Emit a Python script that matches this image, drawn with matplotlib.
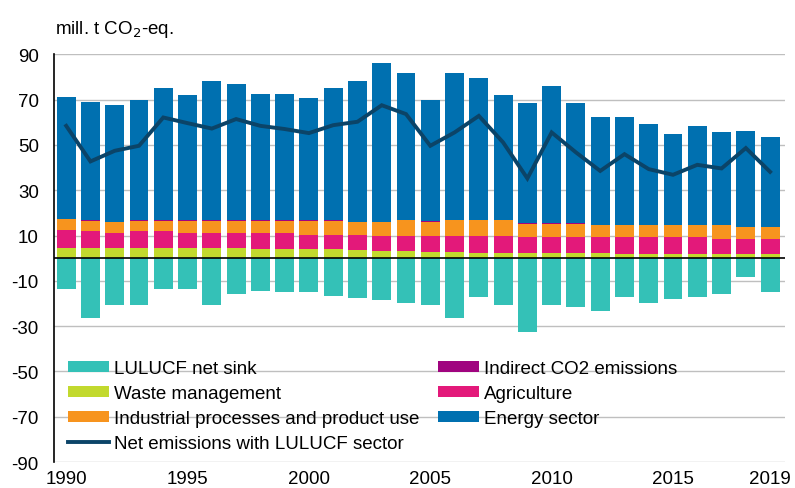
import matplotlib.pyplot as plt
import numpy as np

plt.rcParams['font.family'] = ['Liberation Sans', 'DejaVu Sans']
plt.rcParams['axes.unicode_minus'] = False

# --- Data (mill. t CO2-eq.) ---
years = list(range(1990, 2020))

# top of each stacked level (cumulative), then converted to components
waste = [4.5, 4.5, 4.5, 4.5, 4.5, 4.5, 4.5, 4.5, 4.0, 4.0,
         4.0, 4.0, 3.6, 3.2, 3.2, 2.8, 2.6, 2.5, 2.5, 2.4,
         2.3, 2.2, 2.1, 2.0, 1.9, 1.9, 1.9, 1.8, 1.8, 1.8]
agri_top = [12.5, 11.8, 11.3, 11.8, 11.8, 11.0, 11.0, 11.0, 11.0, 11.0,
            10.3, 10.3, 10.3, 9.6, 9.6, 9.6, 9.6, 9.6, 9.6, 9.2,
            9.4, 9.4, 9.2, 9.2, 9.2, 9.2, 9.2, 8.6, 8.6, 8.6]
ind_top = [17.4, 16.6, 16.0, 16.6, 16.6, 16.6, 16.6, 16.6, 16.6, 16.6,
           16.6, 16.6, 16.0, 16.0, 16.8, 16.1, 16.8, 16.8, 16.8, 15.3,
           15.3, 15.3, 14.6, 14.6, 14.6, 14.6, 14.6, 14.6, 13.8, 13.8]
indirect = [0.1] * 30
total = [71.0, 69.0, 67.5, 70.0, 75.3, 71.8, 78.3, 76.7, 72.5, 72.5,
         70.5, 75.3, 78.3, 86.0, 81.8, 70.0, 81.8, 79.6, 71.8, 68.3,
         76.0, 68.3, 62.5, 62.5, 59.0, 54.9, 58.4, 55.6, 56.2, 53.6]
lulucf = [-13.7, -26.3, -20.8, -20.8, -13.7, -13.7, -20.8, -15.8, -14.3, -15.0,
          -15.0, -16.5, -17.8, -18.5, -19.9, -20.8, -26.3, -17.1, -20.8, -32.8,
          -20.8, -21.5, -23.5, -17.1, -20.0, -18.0, -17.3, -15.8, -8.1, -15.0]
net = [58.4, 42.7, 47.4, 49.6, 62.1, 59.6, 57.2, 61.4, 58.4, 57.0,
       55.2, 58.7, 60.2, 67.5, 63.6, 49.6, 55.5, 62.8, 51.1, 35.2,
       55.5, 46.7, 38.5, 45.9, 39.3, 36.8, 41.2, 39.6, 48.6, 38.1]

waste = np.array(waste)
agriculture = np.array(agri_top) - waste
industrial = np.array(ind_top) - np.array(agri_top)
indirect = np.array(indirect)
energy = np.array(total) - np.array(ind_top) - indirect

c_lulucf = '#34C1B7'
c_waste = '#C2D92E'
c_ind = '#F7941E'
c_indirect = '#A0047F'
c_agri = '#E3197A'
c_energy = '#0070B0'
c_net = '#0B4468'

fig = plt.figure(figsize=(7.95, 4.89), dpi=100)
ax = fig.add_axes([0.068, 0.053, 0.919, 0.834])

w = 0.78
b_lulucf = ax.bar(years, lulucf, w, color=c_lulucf, zorder=2)
b_waste = ax.bar(years, waste, w, color=c_waste, zorder=2)
bottom = waste.copy()
b_agri = ax.bar(years, agriculture, w, bottom=bottom, color=c_agri, zorder=2)
bottom += agriculture
b_ind = ax.bar(years, industrial, w, bottom=bottom, color=c_ind, zorder=2)
bottom += industrial
b_indirect = ax.bar(years, indirect, w, bottom=bottom, color=c_indirect, zorder=2)
bottom += indirect
b_energy = ax.bar(years, energy, w, bottom=bottom, color=c_energy, zorder=2)
l_net, = ax.plot(years, net, color=c_net, lw=2.8, zorder=3, solid_joinstyle='miter')

ax.axhline(0, color='black', lw=1.2, zorder=4)

ax.set_ylim(-90, 90)
ax.set_yticks(range(-90, 91, 20))
ax.set_xlim(1989.5, 2019.6)
ax.set_xticks([1990, 1995, 2000, 2005, 2010, 2015, 2019])
ax.tick_params(length=0, labelsize=13.5)
ax.tick_params(axis='x', pad=6)
ax.tick_params(axis='y', pad=11)
ax.grid(axis='y', color='#BFBFBF', lw=1, zorder=0)
for s in ['top', 'right', 'bottom']:
    ax.spines[s].set_visible(False)
ax.spines['left'].set_color('black')
ax.spines['left'].set_linewidth(1.2)

fig.text(0.069, 0.93, 'mill. t CO$_2$-eq.', fontsize=13.5)

handles = [b_lulucf, b_waste, b_ind, l_net, b_indirect, b_agri, b_energy]
labels = ['LULUCF net sink', 'Waste management', 'Industrial processes and product use',
          'Net emissions with LULUCF sector', 'Indirect CO2 emissions', 'Agriculture',
          'Energy sector']
ax.legend(handles, labels, ncol=2, loc='upper left', bbox_to_anchor=(0.019, 0.25),
          frameon=False, fontsize=13.5, handlelength=2.2, handleheight=0.55,
          handletextpad=0.27, columnspacing=0.97, labelspacing=0.42, borderaxespad=0,
          borderpad=0)

fig.savefig('out.png', dpi=100)
